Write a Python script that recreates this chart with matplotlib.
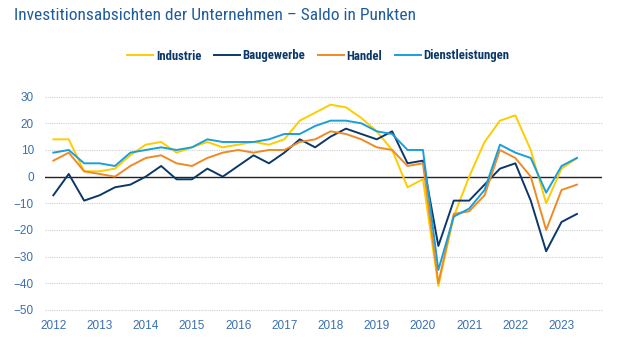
import matplotlib
matplotlib.use("Agg")
import matplotlib.pyplot as plt
import numpy as np

# survey three times a year, 2012 to mid 2023
years = list(range(2012, 2024))
industrie = [14, 14, 2, 2, 3, 8, 12, 13, 9, 11, 13, 11, 12, 13, 12, 14, 21, 24,
             27, 26, 22, 17, 10, -4, -1, -41, -15, 0, 13, 21, 23, 10, -10, 3, 7]
baugewerbe = [-7, 1, -9, -7, -4, -3, 0, 4, -1, -1, 3, 0, 4, 8, 5, 9, 14, 11,
              15, 18, 16, 14, 17, 5, 6, -26, -9, -9, -3, 3, 5, -9, -28, -17, -14]
handel = [6, 9, 2, 1, 0, 4, 7, 8, 5, 4, 7, 9, 10, 9, 10, 10, 13, 14,
          17, 16, 14, 11, 10, 4, 5, -40, -14, -13, -7, 10, 7, 0, -20, -5, -3]
dienst = [9, 10, 5, 5, 4, 9, 10, 11, 10, 11, 14, 13, 13, 13, 14, 16, 16, 19,
          21, 21, 20, 17, 16, 10, 10, -35, -15, -12, -5, 12, 9, 7, -6, 4, 7]

series = [("Industrie", industrie, "#ffcc00"),
          ("Baugewerbe", baugewerbe, "#0c3868"),
          ("Handel", handel, "#f08a24"),
          ("Dienstleistungen", dienst, "#1a9fd9")]

narrow = ["Roboto Condensed", "Liberation Sans", "DejaVu Sans"]
tick_col = "#3a6fb0"

fig = plt.figure(figsize=(6.21, 3.49), dpi=100)
ax = fig.add_axes([0.0725, 0.112, 0.8965, 0.611])

x = 2012 + np.arange(len(industrie)) / 3.0
for name, vals, col in series:
    ax.plot(x, vals, color=col, lw=1.4, label=name, zorder=3)

ax.axhline(0, color="#222222", lw=1.0, zorder=2)
ax.set_ylim(-50, 30)
ax.set_xlim(2011.82, 2023.87)
ax.set_yticks(range(-50, 31, 10))
ax.set_xticks(years)
ax.set_xticklabels([str(y) for y in years])
for g in range(-50, 31, 10):
    if g != 0:
        ax.axhline(g, color="#cfcfcf", lw=0.8, ls=(0, (1, 1)), zorder=1, clip_on=False)
for s in ax.spines.values():
    s.set_visible(False)
ax.tick_params(length=0, colors=tick_col, labelsize=8.5)
ax.tick_params(axis="y", pad=8)
ax.tick_params(axis="x", pad=7)
for lab in ax.get_xticklabels() + ax.get_yticklabels():
    lab.set_family(["Liberation Sans", "DejaVu Sans"])

fig.text(14 / 621, 1 - 16 / 349, "Investitionsabsichten der Unternehmen \u2013 Saldo in Punkten",
         color="#1f5c9c", fontsize=12.55, family=narrow,
         va="center", ha="left")

leg = fig.legend(loc="center", bbox_to_anchor=(318.5 / 621, 1 - 56 / 349), ncol=4,
                 frameon=False, handlelength=2.0, handletextpad=0.23,
                 columnspacing=1.0, prop={"family": narrow, "size": 9.2, "weight": "bold"})
for t in leg.get_texts():
    t.set_color("#0c3868")

fig.savefig("out.png", dpi=100)
